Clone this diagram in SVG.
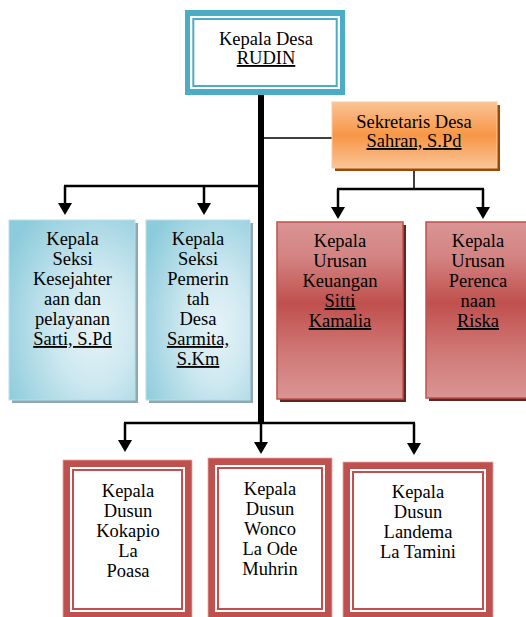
<svg xmlns="http://www.w3.org/2000/svg" width="526" height="617" viewBox="0 0 526 617">
<style>
  text { font-family: "Liberation Serif", "Times New Roman", serif; font-size: 18.5px; fill: #000; text-anchor: middle; }
  .u { text-decoration: underline; }
  .conn { stroke: #000; fill: none; stroke-linecap: butt; }
  .arr { marker-end: url(#ah); }
</style>
<defs>
  <marker id="ah" viewBox="0 0 12 14" refX="9" refY="7" markerWidth="12" markerHeight="14" markerUnits="userSpaceOnUse" orient="auto">
    <path d="M0,0 L12,7 L0,14 z" fill="#000"/>
  </marker>
  <linearGradient id="orange" x1="0" y1="0" x2="0" y2="1">
    <stop offset="0" stop-color="#fac497"/>
    <stop offset="0.5" stop-color="#f79646"/>
    <stop offset="1" stop-color="#fac497"/>
  </linearGradient>
  <linearGradient id="red" x1="0" y1="0" x2="0" y2="1">
    <stop offset="0" stop-color="#d99594"/>
    <stop offset="0.2" stop-color="#d38382"/>
    <stop offset="0.46" stop-color="#c0504d"/>
    <stop offset="0.75" stop-color="#d07a78"/>
    <stop offset="1" stop-color="#d99594"/>
  </linearGradient>
  <radialGradient id="blue" cx="0.68" cy="0.6" r="0.8">
    <stop offset="0" stop-color="#e6f3f7"/>
    <stop offset="0.4" stop-color="#cde8f0"/>
    <stop offset="1" stop-color="#8ccbdb"/>
  </radialGradient>
</defs>

<g id="connectors">
  <line class="conn" x1="261" y1="95" x2="261" y2="424" stroke-width="6"/>
  <line class="conn" x1="264" y1="138" x2="332" y2="138" stroke-width="1.5"/>
  <line class="conn" x1="414" y1="171" x2="414" y2="189" stroke-width="1.5"/>
  <line class="conn" x1="337" y1="189" x2="484" y2="189" stroke-width="2.5"/>
  <line class="conn arr" x1="338" y1="189" x2="338" y2="216" stroke-width="2.5"/>
  <line class="conn arr" x1="483" y1="189" x2="483" y2="216" stroke-width="2.5"/>
  <line class="conn" x1="64" y1="186" x2="258" y2="186" stroke-width="2.5"/>
  <line class="conn arr" x1="65" y1="186" x2="65" y2="212" stroke-width="2.5"/>
  <line class="conn arr" x1="204" y1="186" x2="204" y2="212" stroke-width="2.5"/>
  <line class="conn" x1="124" y1="423" x2="415" y2="423" stroke-width="2.5"/>
  <line class="conn arr" x1="125" y1="423" x2="125" y2="449" stroke-width="2.5"/>
  <line class="conn arr" x1="261" y1="423" x2="261" y2="451" stroke-width="2.5"/>
  <line class="conn arr" x1="414" y1="423" x2="414" y2="452" stroke-width="2.5"/>
</g>

<g id="kepala-desa">
  <rect x="185" y="10" width="160" height="85" fill="#4bacc6"/>
  <rect x="190" y="16" width="150" height="73" fill="#fff"/>
  <rect x="193.3" y="19" width="143.4" height="67" fill="none" stroke="#4bacc6" stroke-width="2"/>
  <text x="266" y="45">Kepala Desa</text>
  <text x="266" y="64" class="u">RUDIN</text>
</g>

<g id="sekretaris-desa">
  <rect x="335" y="105" width="165" height="66" fill="#984807"/>
  <rect x="332" y="102" width="165" height="66" fill="url(#orange)" stroke="#fbc9a0" stroke-width="1"/>
  <text x="414" y="128">Sekretaris Desa</text>
  <text x="414" y="147" class="u">Sahran, S.Pd</text>
</g>

<g id="kasi-kesejahteraan">
  <rect x="12" y="223" width="126" height="180" fill="#8ea7b2"/>
  <rect x="9" y="220" width="126" height="180" fill="url(#blue)" stroke="#b7dfe9" stroke-width="1"/>
  <text x="72.5" y="245">Kepala</text>
  <text x="72.5" y="265">Seksi</text>
  <text x="72.5" y="285">Kesejahter</text>
  <text x="72.5" y="305">aan dan</text>
  <text x="72.5" y="325">pelayanan</text>
  <text x="72.5" y="345" class="u">Sarti, S.Pd</text>
</g>

<g id="kasi-pemerintahan">
  <rect x="149" y="223" width="104" height="180" fill="#8ea7b2"/>
  <rect x="146" y="220" width="104" height="180" fill="url(#blue)" stroke="#b7dfe9" stroke-width="1"/>
  <text x="198" y="245">Kepala</text>
  <text x="198" y="265">Seksi</text>
  <text x="198" y="285">Pemerin</text>
  <text x="198" y="305">tah</text>
  <text x="198" y="325">Desa</text>
  <text x="198" y="345" class="u">Sarmita,</text>
  <text x="198" y="365" class="u">S.Km</text>
</g>

<g id="kaur-keuangan">
  <rect x="280" y="225" width="126" height="177" fill="#632523"/>
  <rect x="277" y="222" width="126" height="177" fill="url(#red)" stroke="#c0504d" stroke-width="1.5"/>
  <text x="340" y="247">Kepala</text>
  <text x="340" y="267">Urusan</text>
  <text x="340" y="287">Keuangan</text>
  <text x="340" y="307" class="u">Sitti</text>
  <text x="340" y="327" class="u">Kamalia</text>
</g>

<g id="kaur-perencanaan">
  <rect x="429" y="225" width="104" height="176" fill="#632523"/>
  <rect x="426" y="222" width="104" height="176" fill="url(#red)" stroke="#c0504d" stroke-width="1.5"/>
  <text x="478" y="247">Kepala</text>
  <text x="478" y="267">Urusan</text>
  <text x="478" y="287">Perenca</text>
  <text x="478" y="307">naan</text>
  <text x="478" y="327" class="u">Riska</text>
</g>

<g id="dusun-kokapio">
  <rect x="63" y="460" width="129" height="159" fill="#c0504d" stroke="#e3aaa9" stroke-width="0.8"/>
  <rect x="70" y="467" width="115" height="145" fill="#fff"/>
  <rect x="73" y="470" width="109" height="139" fill="none" stroke="#c0504d" stroke-width="2"/>
  <text x="128" y="497">Kepala</text>
  <text x="128" y="517">Dusun</text>
  <text x="128" y="537">Kokapio</text>
  <text x="128" y="557">La</text>
  <text x="128" y="577">Poasa</text>
</g>

<g id="dusun-wonco">
  <rect x="208" y="458" width="124" height="161" fill="#c0504d" stroke="#e3aaa9" stroke-width="0.8"/>
  <rect x="215" y="465" width="110" height="147" fill="#fff"/>
  <rect x="218" y="468" width="104" height="141" fill="none" stroke="#c0504d" stroke-width="2"/>
  <text x="270" y="495">Kepala</text>
  <text x="270" y="515">Dusun</text>
  <text x="270" y="535">Wonco</text>
  <text x="270" y="555">La Ode</text>
  <text x="270" y="575">Muhrin</text>
</g>

<g id="dusun-landema">
  <rect x="343" y="462" width="150" height="157" fill="#c0504d" stroke="#e3aaa9" stroke-width="0.8"/>
  <rect x="350" y="469" width="136" height="143" fill="#fff"/>
  <rect x="353" y="472" width="130" height="137" fill="none" stroke="#c0504d" stroke-width="2"/>
  <text x="418" y="498">Kepala</text>
  <text x="418" y="518">Dusun</text>
  <text x="418" y="538">Landema</text>
  <text x="418" y="558">La Tamini</text>
</g>
</svg>
